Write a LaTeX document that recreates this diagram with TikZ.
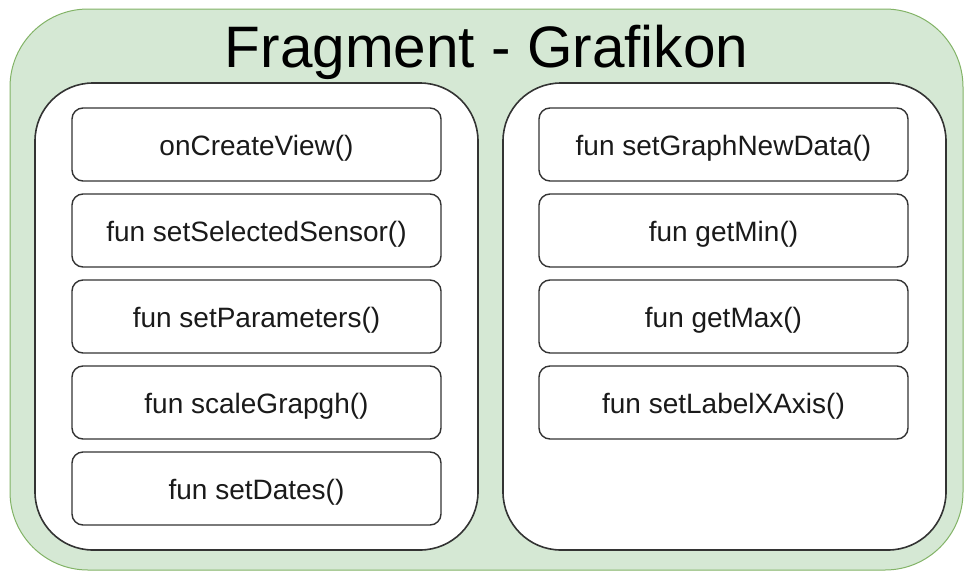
\documentclass[tikz,border=0pt]{standalone}
\usepackage{fontspec}
\setmainfont{Liberation Sans}
\definecolor{grfill}{HTML}{D5E8D4}
\definecolor{grline}{HTML}{82B366}
\definecolor{darkline}{HTML}{333333}
\definecolor{labeltext}{HTML}{1A1A1A}
\begin{document}
\begin{tikzpicture}[x=1pt,y=-1pt,
  outerpanel/.style={draw=grline,fill=grfill,line width=1pt,rounded corners=78pt},
  innerpanel/.style={draw=darkline,fill=white,line width=1.6pt,rounded corners=58pt},
  fnbox/.style={draw=darkline,fill=white,line width=1.4pt,rounded corners=11pt,
    minimum width=369pt,minimum height=73pt,inner sep=0pt,
    text height=24pt,text depth=2pt,
    font=\fontsize{28}{32}\selectfont,text=labeltext},
  titletext/.style={font=\fontsize{58.5}{66}\selectfont,text=black,inner sep=0pt,anchor=base}]
\useasboundingbox (0,0) rectangle (964,571);
% outer container and its two columns
\draw[outerpanel] (10,9) rectangle (963,570);
\node[titletext] (title) at (486.5,67) {Fragment - Grafikon};
\draw[innerpanel] (35,83) rectangle (478,550);
\draw[innerpanel] (503,83) rectangle (946,550);
% left column
\node[fnbox] (l1) at (256.5,144.5) {onCreateView()};
\node[fnbox] (l2) at (256.5,230.5) {fun setSelectedSensor()};
\node[fnbox] (l3) at (256.5,316.5) {fun setParameters()};
\node[fnbox] (l4) at (256.5,402.5) {fun scaleGrapgh()};
\node[fnbox] (l5) at (256.5,488.5) {fun setDates()};
% right column
\node[fnbox] (r1) at (723.5,144.5) {fun setGraphNewData()};
\node[fnbox] (r2) at (723.5,230.5) {fun getMin()};
\node[fnbox] (r3) at (723.5,316.5) {fun getMax()};
\node[fnbox] (r4) at (723.5,402.5) {fun setLabelXAxis()};
\end{tikzpicture}
\end{document}
